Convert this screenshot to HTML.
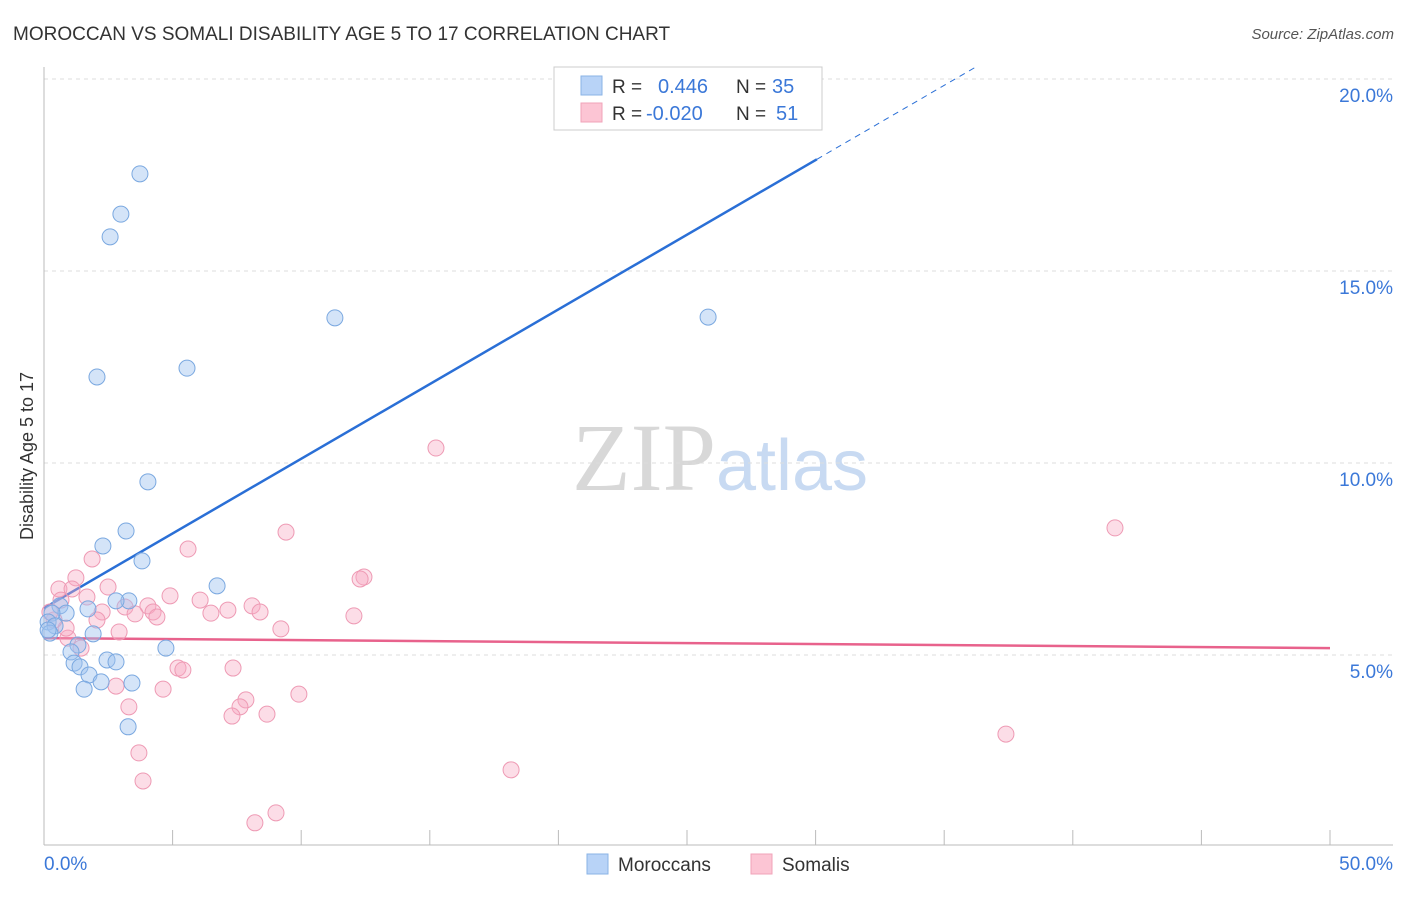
<!DOCTYPE html>
<html><head><meta charset="utf-8"><style>
body{margin:0;background:#fff;font-family:"Liberation Sans",sans-serif}
svg text{font-family:"Liberation Sans",sans-serif}
</style></head><body>
<svg id="chart" width="1406" height="892" xmlns="http://www.w3.org/2000/svg">
<text x="13" y="40" font-size="19" fill="#333">MOROCCAN VS SOMALI DISABILITY AGE 5 TO 17 CORRELATION CHART</text>
<text x="1394" y="39" font-size="15" fill="#555" text-anchor="end" font-style="italic">Source: ZipAtlas.com</text>
<text x="720" y="490" font-size="96" text-anchor="middle"><tspan fill="#d8d8d8" font-family="Liberation Serif">ZIP</tspan><tspan fill="#c8daf2" font-size="72">atlas</tspan></text>
<g id="grid"></g>
<g id="axes"></g>
<g id="trend"></g>
<g id="pts"></g>
<text transform="translate(33,456) rotate(-90)" font-size="18" fill="#333" text-anchor="middle">Disability Age 5 to 17</text>
<g>
<rect x="554" y="67" width="268" height="63" fill="#fff" stroke="#ccc"/>
<rect x="581" y="76" width="21" height="19" fill="#b8d3f7" stroke="#8ab3e6"/>
<rect x="581" y="103" width="21" height="19" fill="#fcc5d4" stroke="#f0a3b9"/>
<text x="612" y="93" font-size="19" fill="#333">R =</text><text x="658" y="93" font-size="20" fill="#3b78d8">0.446</text>
<text x="736" y="93" font-size="19" fill="#333">N =</text><text x="772" y="93" font-size="20" fill="#3b78d8">35</text>
<text x="612" y="120" font-size="19" fill="#333">R =</text><text x="646" y="120" font-size="20" fill="#3b78d8">-0.020</text>
<text x="736" y="120" font-size="19" fill="#333">N =</text><text x="776" y="120" font-size="20" fill="#3b78d8">51</text>
</g>
<g>
<rect x="587" y="854" width="21" height="20" fill="#b8d3f7" stroke="#8ab3e6"/>
<text x="618" y="871" font-size="19" fill="#333">Moroccans</text>
<rect x="751" y="854" width="21" height="20" fill="#fcc5d4" stroke="#f0a3b9"/>
<text x="782" y="871" font-size="19" fill="#333">Somalis</text>
</g>
</svg>
<script>
const blueX=[3.73,2.99,2.57,11.31,25.82,2.06,5.56,4.04,3.19,2.29,3.81,6.73,3.30,2.80,1.71,0.62,0.86,0.31,0.16,0.43,0.23,1.91,1.32,4.74,1.05,1.17,1.40,2.45,2.80,1.75,2.22,3.42,1.56,3.27,0.16];
const blueY=[17.53,16.48,15.89,13.78,13.80,12.24,12.47,9.51,8.23,7.84,7.45,6.80,6.41,6.41,6.20,6.28,6.09,6.09,5.86,5.76,5.57,5.55,5.26,5.18,5.08,4.79,4.69,4.87,4.82,4.48,4.30,4.27,4.11,3.13,5.65];
const pinkX=[15.24,41.64,9.41,5.60,1.87,12.44,12.29,1.24,0.58,1.09,2.49,4.90,1.67,6.07,4.04,8.09,3.15,4.24,2.26,6.49,7.15,8.40,3.54,12.05,4.39,2.06,9.21,2.92,0.93,1.44,5.21,5.40,7.35,2.80,4.63,9.91,7.85,3.30,7.62,7.31,8.67,37.40,3.69,18.16,3.85,9.02,8.20,0.86,0.39,0.23,0.66];
const pinkY=[10.39,8.31,8.20,7.76,7.50,7.03,6.98,7.01,6.72,6.72,6.77,6.54,6.51,6.43,6.28,6.28,6.25,6.12,6.12,6.09,6.17,6.12,6.07,6.02,5.99,5.91,5.68,5.60,5.44,5.18,4.66,4.61,4.66,4.19,4.11,3.98,3.83,3.65,3.65,3.41,3.46,2.94,2.45,2.01,1.72,0.89,0.63,5.70,5.91,6.12,6.43];
const blueTrend=[6.22,0.389]; // intercept, slope
const pinkTrend=[5.44,-0.0052];
const yTicks=[5,10,15,20];
const yTickLabels=["5.0%","10.0%","15.0%","20.0%"];
const xTicks=[0,5,10,15,20,25,30,35,40,45,50];
const NS="http://www.w3.org/2000/svg";
const sx=v=>44+v*25.72, sy=v=>847-v*38.4;
function mk(tag,attrs,parent){const e=document.createElementNS(NS,tag);for(const k in attrs)e.setAttribute(k,attrs[k]);document.getElementById(parent).appendChild(e);return e;}
yTicks.forEach((t,i)=>{
 const l=mk('line',{x1:44,x2:1393,y1:sy(t),y2:sy(t),stroke:'#ddd','stroke-dasharray':'4,4'},'grid');
 
 
 const tx=mk('text',{x:1393,y:sy(t)+23,'font-size':19,fill:'#3b78d8','text-anchor':'end'},'axes');tx.textContent=yTickLabels[i];
 
 
});
mk('line',{x1:44,x2:44,y1:67,y2:845,stroke:'#bbb'},'axes');
mk('line',{x1:44,x2:1393,y1:845,y2:845,stroke:'#bbb'},'axes');
xTicks.forEach(t=>{const l=mk('line',{x1:sx(t),x2:sx(t),y1:830,y2:845,stroke:'#bbb'},'axes');
 
 });
let a=mk('text',{x:44,y:870,'font-size':19,fill:'#3b78d8'},'axes');a.textContent="0.0%";


a=mk('text',{x:1393,y:870,'font-size':19,fill:'#3b78d8','text-anchor':'end'},'axes');a.textContent="50.0%";


// trends
const bEnd=30.05;
let tl=mk('line',{x1:sx(0),y1:sy(blueTrend[0]),x2:sx(bEnd),y2:sy(blueTrend[0]+blueTrend[1]*bEnd),stroke:'#2a6fd6','stroke-width':2.5},'trend');


const bMax=(20.3-blueTrend[0])/blueTrend[1];
tl=mk('line',{x1:sx(bEnd),y1:sy(blueTrend[0]+blueTrend[1]*bEnd),x2:sx(bMax),y2:sy(20.3),stroke:'#2a6fd6','stroke-width':1,'stroke-dasharray':'6,5'},'trend');


tl=mk('line',{x1:sx(0),y1:sy(pinkTrend[0]),x2:sx(50),y2:sy(pinkTrend[0]+pinkTrend[1]*50),stroke:'#e8628c','stroke-width':2.5},'trend');


pinkX.forEach((x,i)=>{const c=mk('circle',{cx:sx(x),cy:sy(pinkY[i]),r:8,fill:'rgba(247,170,195,0.4)',stroke:'#ee9ab4','stroke-width':1},'pts');
 
 });
blueX.forEach((x,i)=>{const c=mk('circle',{cx:sx(x),cy:sy(blueY[i]),r:8,fill:'rgba(160,195,240,0.45)',stroke:'#7aa8e0','stroke-width':1},'pts');
 
 });
</script>
</body></html>
